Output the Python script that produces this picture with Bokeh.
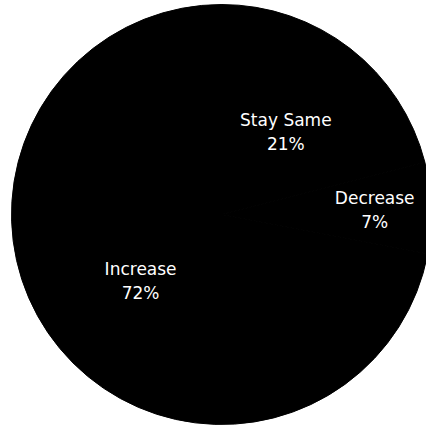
import math
from bokeh.plotting import figure
from bokeh.models import Range1d, ColumnDataSource
from bokeh.core.properties import value
from bokeh.embed import file_html
from bokeh.resources import INLINE

categories = ["Stay Same", "Decrease", "Increase"]
shares = [21, 7, 72]
pct_labels = ["21%", "7%", "72%"]

# style: radial position of each label as a fraction of the radius
label_radius = [0.5, 0.73, 0.5]

R = 210.0
cx, cy = 221.0, 214.0
W, H = 426, 427

total = float(sum(shares))
starts, ends, lx, ly = [], [], [], []
cum = 0.0
for s, lr in zip(shares, label_radius):
    a0 = math.pi / 2 - 2 * math.pi * cum / total
    cum += s
    a1 = math.pi / 2 - 2 * math.pi * cum / total
    starts.append(a0)
    ends.append(a1)
    mid = (a0 + a1) / 2
    lx.append(lr * math.cos(mid))
    ly.append(lr * math.sin(mid))

src = ColumnDataSource(dict(cat=categories, pct=pct_labels, start=starts, end=ends, lx=lx, ly=ly))

p = figure(width=W, height=H, output_backend="svg", toolbar_location=None,
           x_range=Range1d(-cx / R, (W - cx) / R), y_range=Range1d(-(H - cy) / R, cy / R),
           min_border=0)
p.axis.visible = False
p.grid.visible = False
p.outline_line_color = None
p.background_fill_color = "white"
p.border_fill_color = "white"

p.wedge(x=0, y=0, radius=1, start_angle="start", end_angle="end", direction="clock",
        fill_color="black", line_color="black", source=src)

p.text(x="lx", y="ly", text="cat", source=src, text_color="white",
       text_font=value("DejaVu Sans"), text_font_size="17px",
       text_align="center", text_baseline="middle", y_offset=-12)
p.text(x="lx", y="ly", text="pct", source=src, text_color="white",
       text_font=value("DejaVu Sans"), text_font_size="17px",
       text_align="center", text_baseline="middle", y_offset=12)

open("out.html", "w").write(file_html(p, INLINE))
